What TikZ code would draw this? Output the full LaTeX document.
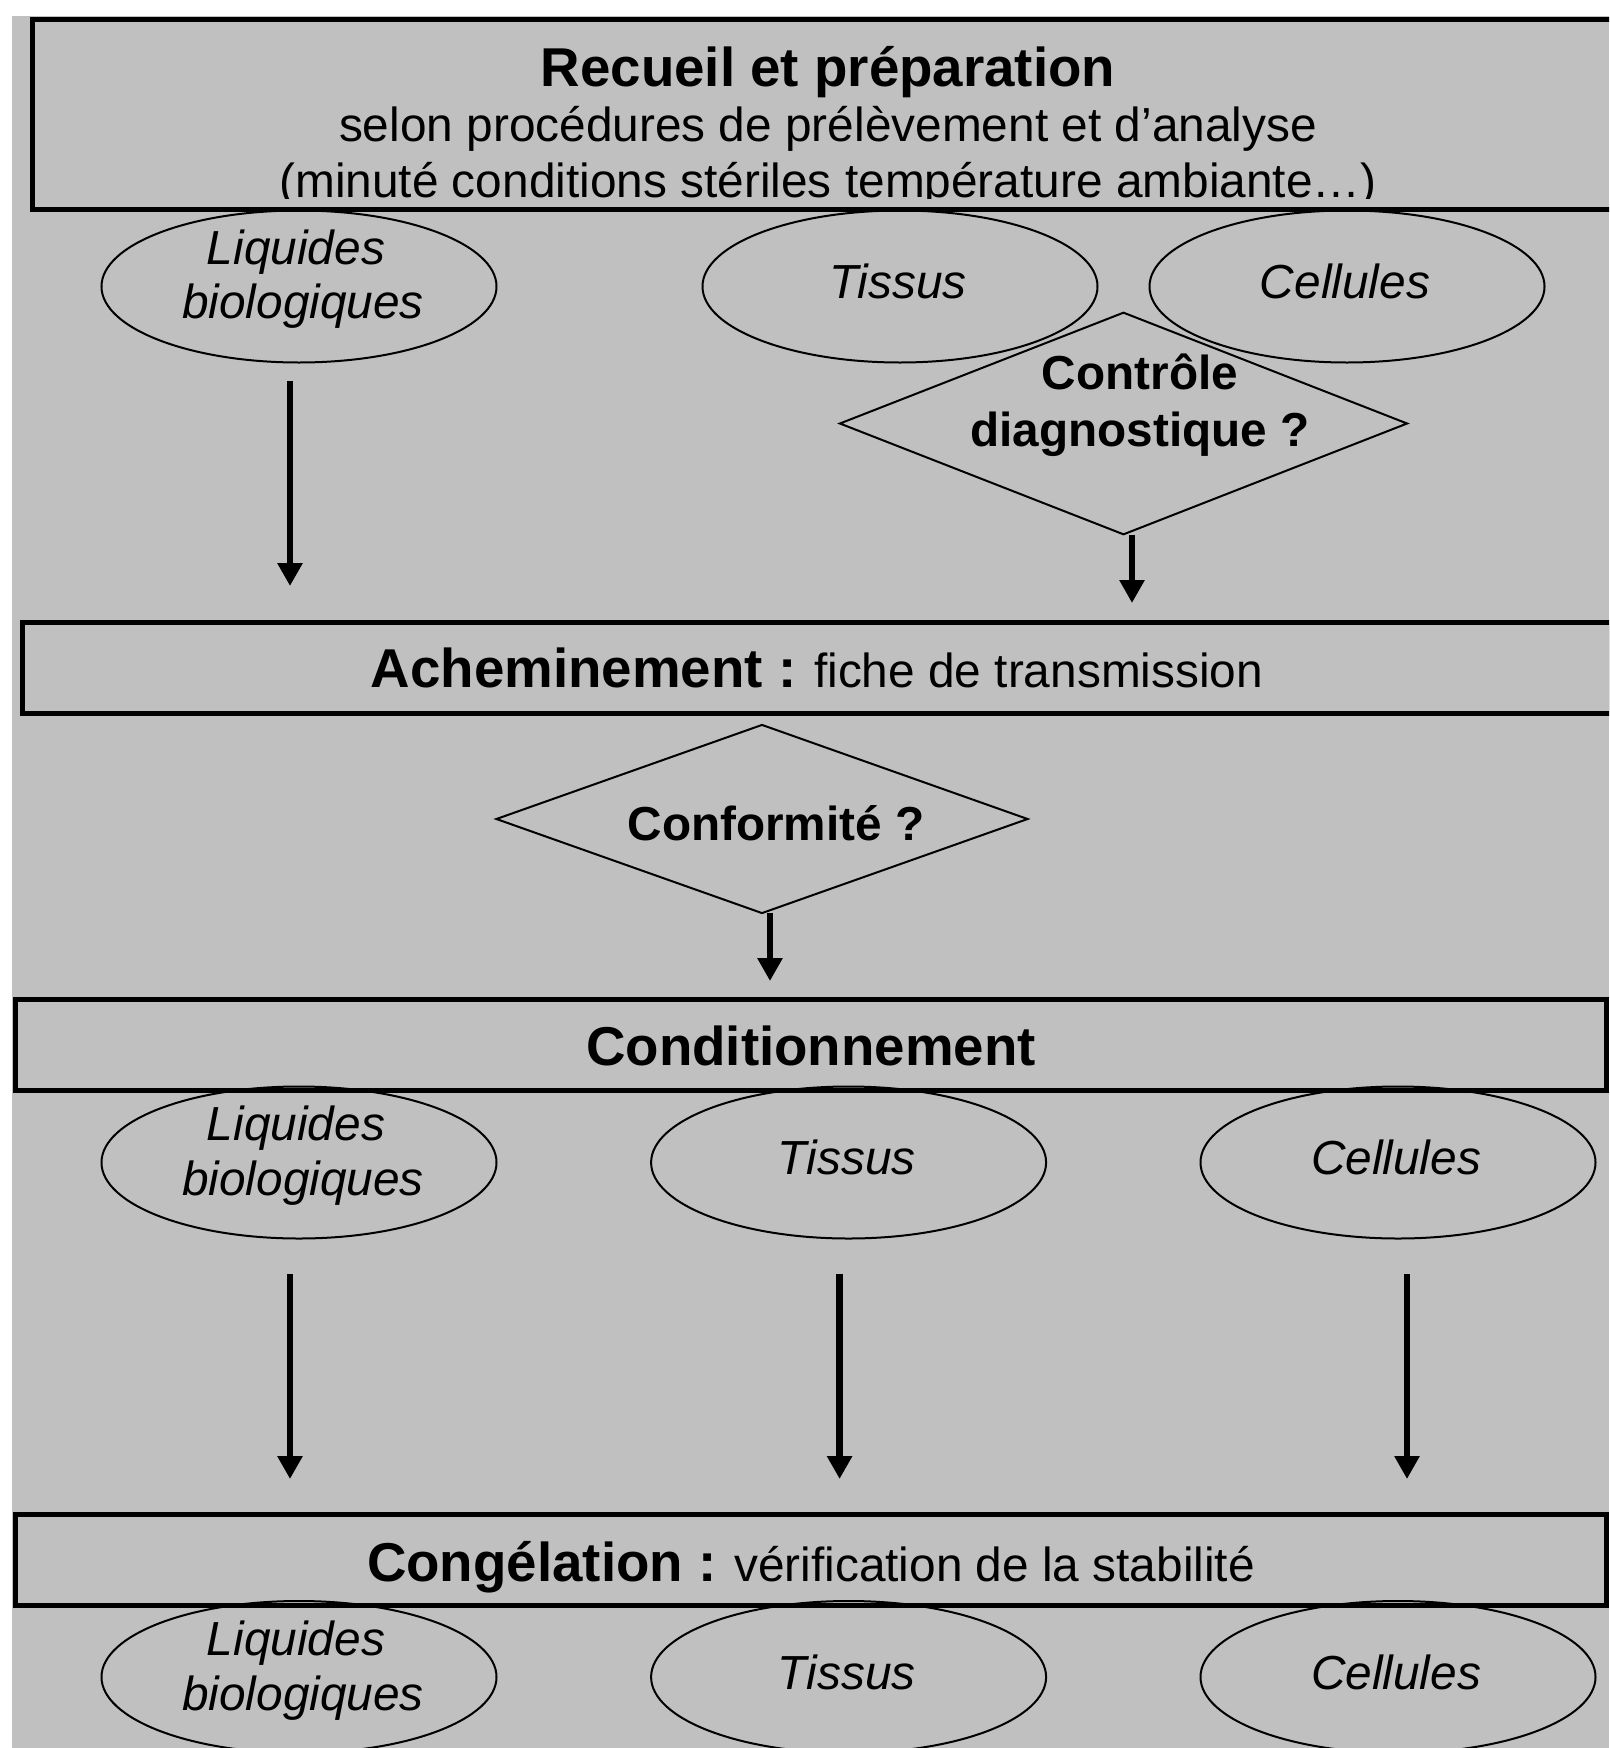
\documentclass[tikz,border=0pt]{standalone}
\usepackage{fontspec}
\setmainfont{Liberation Sans}
\usetikzlibrary{shapes.geometric,arrows.meta}
\definecolor{bggrey}{HTML}{C0C0C0}
\begin{document}
\begin{tikzpicture}[x=1pt,y=-1pt,
  boxs/.style={draw=black, line width=5pt, inner sep=0pt, rectangle},
  ell/.style={draw=black, line width=2pt, ellipse, inner sep=0pt, minimum width=395pt, minimum height=152pt},
  dia/.style={draw=black, line width=2pt, diamond, inner sep=0pt},
  arr/.style={line width=6.5pt, -{Triangle[width=24pt,length=23pt]}},
  head/.style={font=\fontsize{54.7}{60}\selectfont\bfseries, inner sep=0pt, anchor=base},
  reg/.style={font=\fontsize{47.8}{54}\selectfont, inner sep=0pt, anchor=base},
  dtxt/.style={font=\fontsize{47.7}{54}\selectfont\bfseries, inner sep=0pt, anchor=base},
  itxt/.style={font=\fontsize{47.8}{54}\selectfont\itshape, inner sep=0pt, anchor=base},
]
\useasboundingbox (0,0) rectangle (1609,1748);
\clip (0,0) rectangle (1609,1748);
\fill[white] (0,0) rectangle (1609,1748);
\fill[bggrey] (12,16) rectangle (1609,1748);

% Box 1
\node[boxs, minimum width=1590.5pt, minimum height=190.5pt] (b1) at (827.75,114.25) {};
\node[head] (t1a) at (828,86) {Recueil et préparation};
\node[reg] (t1b) at (828,141) {selon procédures de prélèvement et d’analyse};
\begin{scope}
  \clip (35,21.5) rectangle (1620,198);
  \node[reg] (t1c) at (828,197) {(minuté conditions stériles température ambiante…)};
\end{scope}

% Row 1 ellipses
\node[ell] (e1) at (299,286.5) {};
\node[itxt] (e1a) at (296,264) {Liquides};
\node[itxt] (e1b) at (303,318) {biologiques};
\node[ell] (e2) at (900,286.5) {};
\node[itxt] (e2a) at (898,298) {Tissus};
\node[ell] (e3) at (1347,286.5) {};
\node[itxt] (e3a) at (1345,298) {Cellules};

% Diamond 1
\node[dia, minimum width=568pt, minimum height=222.5pt] (d1) at (1123.5,423.5) {};
\node[dtxt] (d1a) at (1140,389) {Contrôle};
\node[dtxt] (d1b) at (1140,446) {diagnostique ?};

\coordinate (a1s) at (290,381);
\coordinate (a1e) at (290,586);
\draw[arr] (a1s) -- (a1e);
\coordinate (a2s) at (1132,535);
\coordinate (a2e) at (1132,603);
\draw[arr] (a2s) -- (a2e);

% Box 2
\node[boxs, minimum width=1589pt, minimum height=91pt] (b2) at (817,667.5) {};
\node[inner sep=0pt, anchor=base] (t2) at (817,687) {{\fontsize{54.7}{60}\selectfont\bfseries Acheminement :}{\fontsize{47.8}{54}\selectfont{} fiche de transmission}};

% Diamond 2
\node[dia, minimum width=532pt, minimum height=189pt] (d2) at (762,819) {};
\node[dtxt] (d2a) at (776,840) {Conformité ?};
\coordinate (a3s) at (770,913);
\coordinate (a3e) at (770,981);
\draw[arr] (a3s) -- (a3e);

% Box 3
\node[boxs, minimum width=1591pt, minimum height=91pt] (b3) at (811,1045.3) {};
\node[head] (t3) at (811,1065) {Conditionnement};

% Row 2 ellipses
\node[ell] (f1) at (299,1162.5) {};
\node[itxt] (f1a) at (296,1140) {Liquides};
\node[itxt] (f1b) at (303,1195) {biologiques};
\node[ell] (f2) at (848.6,1162.5) {};
\node[itxt] (f2a) at (846.6,1174) {Tissus};
\node[ell] (f3) at (1398,1162.5) {};
\node[itxt] (f3a) at (1396,1174) {Cellules};

\coordinate (a4s) at (290,1274);
\coordinate (a4e) at (290,1479);
\draw[arr] (a4s) -- (a4e);
\coordinate (a5s) at (839.6,1274);
\coordinate (a5e) at (839.6,1479);
\draw[arr] (a5s) -- (a5e);
\coordinate (a6s) at (1407,1274);
\coordinate (a6e) at (1407,1479);
\draw[arr] (a6s) -- (a6e);

% Box 4
\node[boxs, minimum width=1591pt, minimum height=91pt] (b4) at (811,1560) {};
\node[inner sep=0pt, anchor=base] (t4) at (811,1581) {{\fontsize{54.7}{60}\selectfont\bfseries Congélation :}{\fontsize{47.8}{54}\selectfont{} vérification de la stabilité}};

% Row 3 ellipses
\node[ell] (g1) at (299,1677) {};
\node[itxt] (g1a) at (296,1655) {Liquides};
\node[itxt] (g1b) at (303,1710) {biologiques};
\node[ell] (g2) at (848.6,1677) {};
\node[itxt] (g2a) at (846.6,1689) {Tissus};
\node[ell] (g3) at (1398,1677) {};
\node[itxt] (g3a) at (1396,1689) {Cellules};
\end{tikzpicture}
\end{document}
